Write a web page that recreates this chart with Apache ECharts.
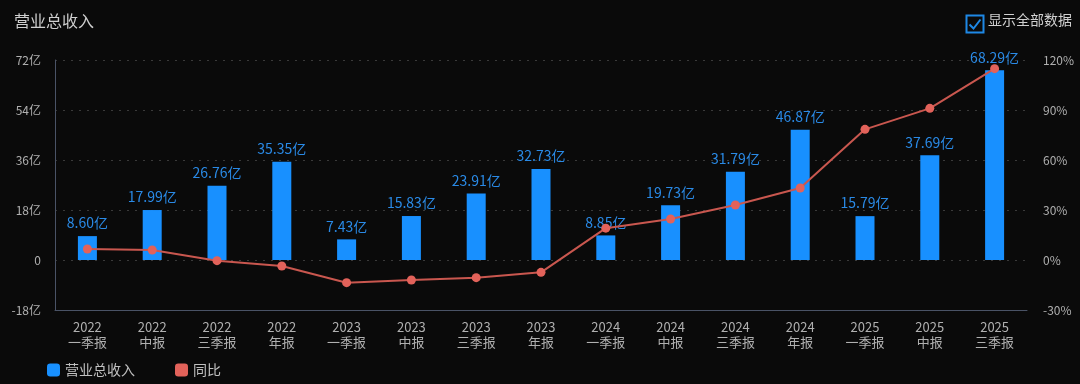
<!DOCTYPE html>
<html><head><meta charset="utf-8">
<script src="https://cdn.jsdelivr.net/npm/echarts@6/dist/echarts.min.js"></script>
<style>html,body{margin:0;padding:0;background:#0a0a0a;}#c{width:1080px;height:384px;}</style>
</head><body><div id="c"></div>
<script>
const categories = ['2022\n一季报','2022\n中报','2022\n三季报','2022\n年报','2023\n一季报','2023\n中报','2023\n三季报','2023\n年报','2024\n一季报','2024\n中报','2024\n三季报','2024\n年报','2025\n一季报','2025\n中报','2025\n三季报'];
const revenue = [8.60,17.99,26.76,35.35,7.43,15.83,23.91,32.73,8.85,19.73,31.79,46.87,15.79,37.69,68.29];
const yoy = [6.6,6.0,-0.4,-3.6,-13.6,-12.0,-10.6,-7.4,19.1,24.6,33.0,43.2,78.4,91.0,114.8];
const leftTicks = {min:-18,max:72,interval:18};
const rightTicks = {min:-30,max:120,interval:30};

const font = '"Noto Sans CJK SC", "Microsoft YaHei", sans-serif';
const chart = echarts.init(document.getElementById('c'));
chart.setOption({
  backgroundColor:'#0a0a0a',
  textStyle:{fontFamily:font},
  title:{text:'营业总收入',left:9,top:8,textStyle:{color:'#cfcfcf',fontSize:16,fontWeight:'normal',fontFamily:font}},
  legend:{left:42,bottom:2,itemWidth:13,itemHeight:13,itemGap:40,icon:'roundRect',
    textStyle:{color:'#c0c0c0',fontSize:14,fontFamily:font},
    data:[{name:'营业总收入'},{name:'同比'}]},
  grid:{left:55,right:53,top:60,bottom:74},
  xAxis:{type:'category',data:categories,
    axisLine:{onZero:false,lineStyle:{color:'#4a5366'}},axisTick:{show:false},
    axisLabel:{color:'#b0b0b0',fontSize:13,lineHeight:15,margin:10,interval:0,fontFamily:font}},
  yAxis:[
    {type:'value',min:leftTicks.min,max:leftTicks.max,interval:leftTicks.interval,
     axisLine:{show:true,lineStyle:{color:'#4a5366'}},axisTick:{show:false},
     axisLabel:{color:'#b0b0b0',fontSize:12,margin:14,fontFamily:font,formatter:v=>v===0?'0':v+'亿'},
     splitLine:{lineStyle:{color:'#3a3a3a',type:[2,6]}}},
    {type:'value',min:rightTicks.min,max:rightTicks.max,interval:rightTicks.interval,
     axisLine:{show:false},axisTick:{show:false},splitLine:{show:false},
     axisLabel:{color:'#b0b0b0',fontSize:12,margin:16,fontFamily:font,formatter:v=>v+'%'}}
  ],
  series:[
    {name:'营业总收入',type:'bar',data:revenue,barWidth:19,itemStyle:{color:'#1890ff'},
     label:{show:true,position:'top',distance:6,color:'#2a8ae6',fontSize:14,fontFamily:font,formatter:p=>p.value.toFixed(2)+'亿'}},
    {name:'同比',type:'line',yAxisIndex:1,data:yoy,symbol:'circle',symbolSize:9,
     itemStyle:{color:'#e2625a'},lineStyle:{color:'#c9574f',width:2}}
  ],
  graphic:[
    {type:'rect',left:964,top:13,shape:{width:17,height:17},style:{fill:'none',stroke:'#1e88e5',lineWidth:2}},
    {type:'polyline',left:967,top:17,shape:{points:[[0,5],[4,9],[11,0]]},style:{fill:'none',stroke:'#1e88e5',lineWidth:2}},
    {type:'text',left:988,top:13,style:{text:'显示全部数据',fill:'#d0d0d0',fontSize:14,fontFamily:font}}
  ]
});
</script></body></html>
